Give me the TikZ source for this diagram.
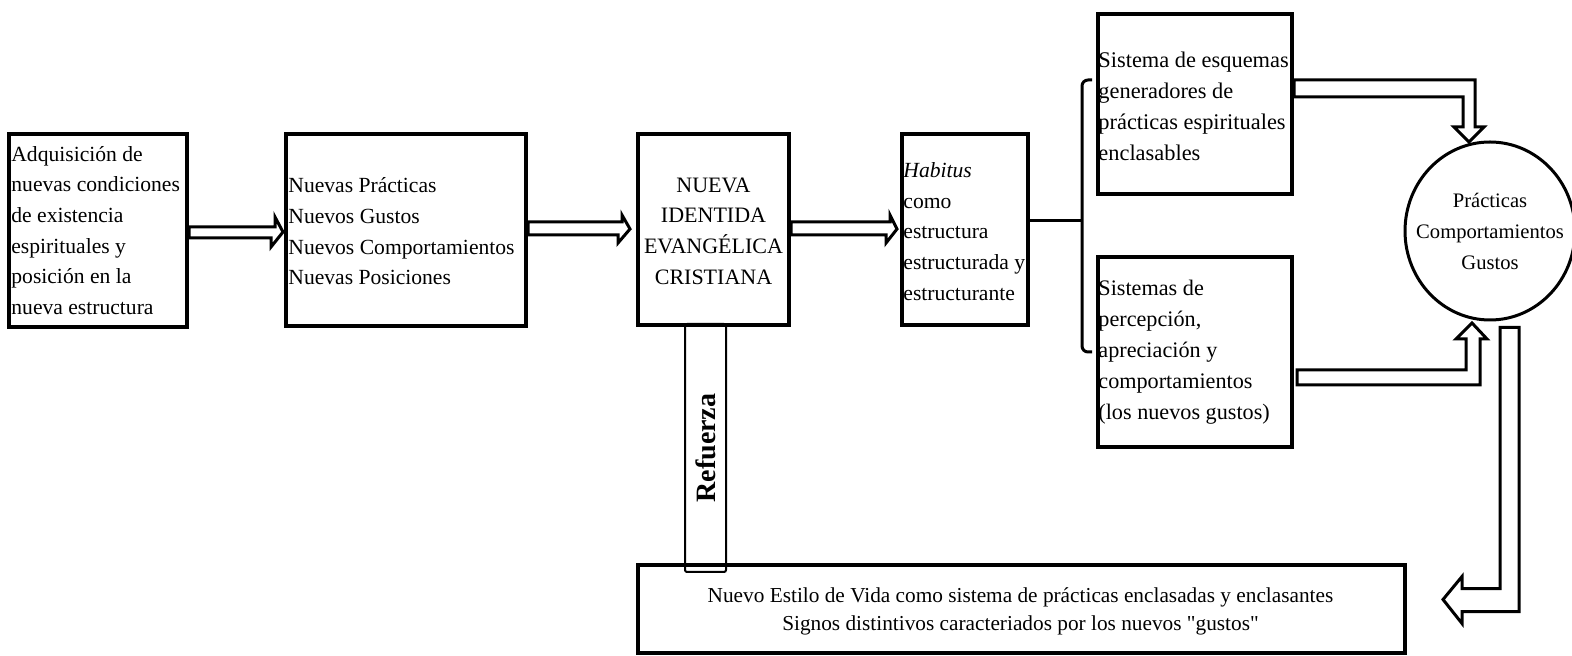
\documentclass[tikz,border=0pt]{standalone}
\usepackage{fontspec}
\setmainfont{Liberation Serif}[Ligatures=TeXOff]
\usetikzlibrary{calc,shapes.geometric}
\tikzset{
  box/.style={draw, line width=2pt, inner sep=0pt, fill=white},
  txt/.style={inner sep=0pt, font=\fontsize{10.8}{15.35}\selectfont},
  blockarrow/.style={draw, line width=1.5pt, fill=white, line join=miter},
  bracketline/.style={draw, line width=1.5pt},
}
\begin{document}
\begin{tikzpicture}[x=0.5pt,y=-0.5pt]
\useasboundingbox (0,0) rectangle (1572,656);
% boxes
\node[box, minimum width=89pt, minimum height=96.5pt] (b1) at (98,230.5) {};
\node[box, minimum width=120pt, minimum height=96pt] (b2) at (406,230) {};
\node[box, minimum width=75.5pt, minimum height=95.5pt] (b3) at (713.5,229.5) {};
\node[box, minimum width=63pt, minimum height=95.5pt] (b4) at (965,229.5) {};
\node[box, minimum width=97pt, minimum height=90pt] (b5) at (1195,104) {};
\node[box, minimum width=97pt, minimum height=95pt] (b6) at (1195,352) {};
\node[draw, line width=1.5pt, ellipse, inner sep=0pt, minimum width=85pt, minimum height=89pt, fill=white] (circ) at (1490,231) {};
\node[draw, line width=1pt, rounded corners=1pt, inner sep=0pt, minimum width=20.5pt, minimum height=124pt] (bar) at (705.5,448) {};
\node[box, fill=none, minimum width=383.5pt, minimum height=44pt] (bot) at (1021.5,609) {};
% texts
\node[txt, anchor=west, align=left] (t1) at ($(b1.west)+(4,0)$) {Adquisición de\\nuevas condiciones\\de existencia\\espirituales y\\posición en la\\nueva estructura};
\node[txt, anchor=west, align=left] (t2) at ($(b2.west)+(4,1.5)$) {Nuevas Prácticas\\Nuevos Gustos\\Nuevos Comportamientos\\Nuevas Posiciones};
\node[txt, align=center, font=\fontsize{11}{15.35}\selectfont] (t3) at ($(b3.center)+(0,1.5)$) {NUEVA\\IDENTIDA\\EVANGÉLICA\\CRISTIANA};
\node[txt, anchor=west, align=left] (t4) at ($(b4.west)+(3,2)$) {\textit{Habitus}\\como\\estructura\\estructurada y\\estructurante};
\node[txt, anchor=west, align=left, font=\fontsize{11.2}{15.5}\selectfont] (t5) at ($(b5.west)+(2,2)$) {Sistema de esquemas\\generadores de\\prácticas espirituales\\enclasables};
\node[txt, anchor=west, align=left, font=\fontsize{11.1}{15.5}\selectfont] (t6) at ($(b6.west)+(2,0)$) {Sistemas de\\percepción,\\apreciación y\\comportamientos\\(los nuevos gustos)};
\node[txt, align=center, font=\fontsize{10.3}{15.5}\selectfont] (tc) at (circ.center) {Prácticas\\Comportamientos\\Gustos};
\node[txt, align=center, font=\fontsize{10.65}{14}\selectfont] (tb) at ($(bot.center)+(-1,2)$) {Nuevo Estilo de Vida como sistema de prácticas enclasadas y enclasantes\\Signos distintivos caracteriados por los nuevos "gustos"};
\node[txt, rotate=90, font=\bfseries\fontsize{14}{16}\selectfont] (tr) at (bar.center) {Refuerza};
% block arrows
\draw[blockarrow] ($(b1.east)+(0,-3.5)$) -- ++(86,0) -- ++(0,-10) -- ($(b2.west)+(-1,2)$) -- ++(-12,15) -- ++(0,-9) -- ($(b1.east)+(0,7.5)$) -- cycle;
\draw[blockarrow] ($(b2.east)+(0,-8)$) -- ++(94,0) -- ++(0,-7) -- ($(b3.west)+(-6,-0.5)$) -- ++(-12,14) -- ++(0,-8) -- ($(b2.east)+(0,5)$) -- cycle;
\draw[blockarrow] ($(b3.east)+(0,-7.5)$) -- ++(99,0) -- ++(0,-7) -- ($(b4.west)+(-3,-0.5)$) -- ++(-11,14) -- ++(0,-8) -- ($(b3.east)+(0,5.5)$) -- cycle;
\draw[blockarrow] ($(b5.east)+(0,-24)$) -- ++(181,0) -- ++(0,47) -- ++(9,0) -- ++(-15,15) -- ++(-15,-15) -- ++(9,0) -- ++(0,-30) -- ($(b5.east)+(0,-7)$) -- cycle;
\draw[blockarrow] ($(b6.east)+(3,18)$) -- ++(169,0) -- ++(0,-31) -- ++(-10,0) -- ++(16,-16) -- ++(15,16) -- ++(-7,0) -- ++(0,46) -- ($(b6.east)+(3,33)$) -- cycle;
\draw[blockarrow] ($(circ.south)+(10,6)$) -- ++(0,261) -- ++(-38,0) -- ++(0,-12) -- ++(-19,23) -- ++(19,24) -- ++(0,-12) -- ++(57,0) -- ++(0,-284) -- cycle;
% bracket
\draw[bracketline] ($(b4.east)+(0,-8.5)$) -- ++(52,0) coordinate (bj);
\draw[bracketline, rounded corners=3pt] ($(b5.west)+(-4,-24)$) -- ($(bj)+(0,-141)$) -- ($(bj)+(0,131)$) -- ($(b6.west)+(-4,0)$);
\end{tikzpicture}
\end{document}
